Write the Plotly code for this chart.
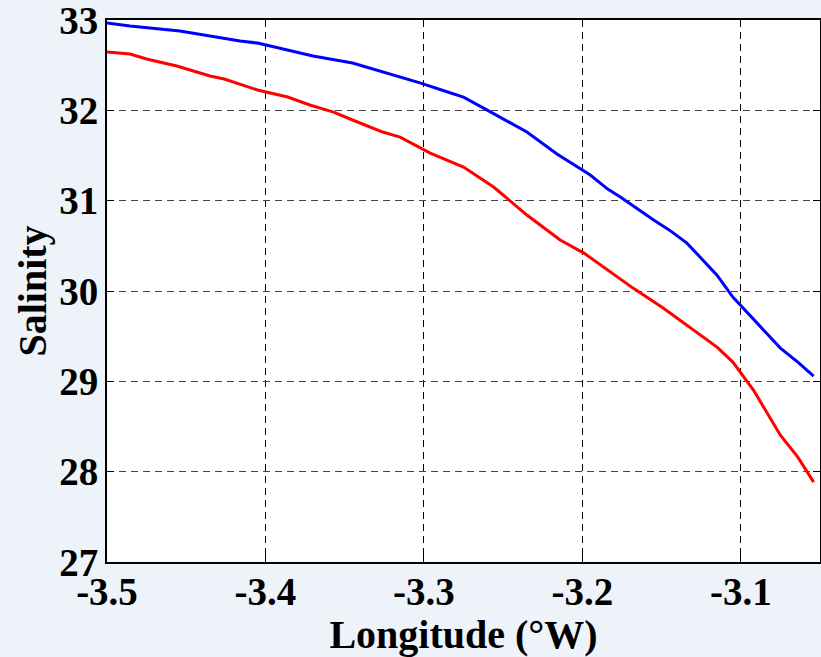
import plotly.graph_objects as go

blue_lon = [-3.500, -3.4855, -3.454, -3.435, -3.416, -3.405, -3.391, -3.370, -3.345, -3.326,
            -3.302, -3.285, -3.275, -3.260, -3.235, -3.216, -3.206, -3.195, -3.184, -3.176,
            -3.155, -3.145, -3.134, -3.115, -3.105, -3.090, -3.075, -3.064, -3.054]
blue_sal = [32.967, 32.934, 32.878, 32.823, 32.767, 32.745, 32.690, 32.601, 32.524, 32.424,
            32.302, 32.203, 32.147, 32.003, 31.760, 31.516, 31.405, 31.284, 31.128, 31.040,
            30.785, 30.674, 30.530, 30.176, 29.932, 29.645, 29.368, 29.213, 29.058]

red_lon = [-3.500, -3.4855, -3.475, -3.456, -3.435, -3.426, -3.405, -3.386, -3.372, -3.357,
           -3.345, -3.326, -3.315, -3.296, -3.275, -3.256, -3.235, -3.214, -3.199, -3.184,
           -3.168, -3.149, -3.126, -3.115, -3.105, -3.098, -3.092, -3.075, -3.064, -3.054]
red_sal = [32.646, 32.623, 32.568, 32.491, 32.380, 32.347, 32.225, 32.147, 32.059, 31.981,
           31.893, 31.760, 31.704, 31.527, 31.372, 31.151, 30.841, 30.564, 30.420, 30.232,
           30.032, 29.811, 29.512, 29.379, 29.213, 29.047, 28.903, 28.404, 28.161, 27.884]

x_ticks = [-3.5, -3.4, -3.3, -3.2, -3.1]
x_tick_labels = ["-3.5", "-3.4", "-3.3", "-3.2", "-3.1"]
y_ticks = [27, 28, 29, 30, 31, 32, 33]
y_tick_labels = ["27", "28", "29", "30", "31", "32", "33"]

FONT = "Liberation Serif"

fig = go.Figure()
fig.add_trace(go.Scatter(x=blue_lon, y=blue_sal, mode="lines",
                         line=dict(color="#0000ff", width=3), showlegend=False))
fig.add_trace(go.Scatter(x=red_lon, y=red_sal, mode="lines",
                         line=dict(color="#ff0000", width=3), showlegend=False))

fig.update_layout(
    width=821, height=657,
    margin=dict(l=107, r=1, t=20, b=95),
    paper_bgcolor="#eef3f9",
    plot_bgcolor="#ffffff",
    font=dict(family=FONT, color="#000000"),
)
fig.update_xaxes(
    range=[-3.5, -3.05],
    automargin=False,
    tickvals=x_ticks, ticktext=x_tick_labels,
    tickfont=dict(family=FONT, size=39, color="#000", weight="bold"),
    ticklabeloverflow="allow",
    ticklabelstandoff=-6,
    title=dict(text="<b>Longitude (°W)</b>", font=dict(family=FONT, size=40, color="#000"),
               standoff=0),
    showline=True, linecolor="#000", linewidth=2, mirror="ticks",
    ticks="inside", ticklen=7, tickcolor="#000",
    showgrid=True, gridcolor="#000", gridwidth=1, griddash="7px,5px",
    zeroline=False,
)
fig.update_yaxes(
    range=[26.9999, 33.0001],
    automargin=False,
    tickvals=y_ticks, ticktext=y_tick_labels,
    tickfont=dict(family=FONT, size=39, color="#000", weight="bold"),
    ticklabeloverflow="allow",
    title=dict(text="<b>Salinity</b>", font=dict(family=FONT, size=40, color="#000"),
               standoff=0),
    showline=True, linecolor="#000", linewidth=2, mirror="ticks",
    ticks="inside", ticklen=7, tickcolor="#000",
    ticklabelstandoff=-1,
    showgrid=True, gridcolor="#444", gridwidth=1, griddash="7px,5px",
    zeroline=False,
)

fig.write_html("out.html", config={"displayModeBar": False},
               post_script="document.body.style.margin='0';document.body.style.background='#eef3f9';")
